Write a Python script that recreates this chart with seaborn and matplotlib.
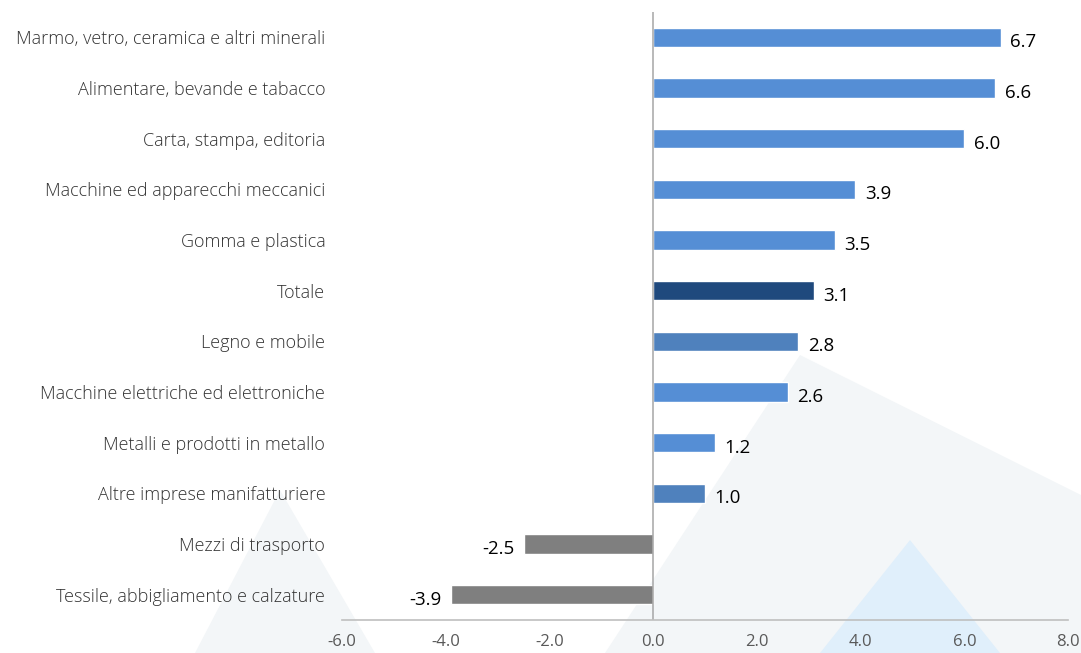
import pandas as pd
import matplotlib.pyplot as plt
import seaborn as sns
from matplotlib.patches import Polygon

categories = [
    "Marmo, vetro, ceramica e altri minerali",
    "Alimentare, bevande e tabacco",
    "Carta, stampa, editoria",
    "Macchine ed apparecchi meccanici",
    "Gomma e plastica",
    "Totale",
    "Legno e mobile",
    "Macchine elettriche ed elettroniche",
    "Metalli e prodotti in metallo",
    "Altre imprese manifatturiere",
    "Mezzi di trasporto",
    "Tessile, abbigliamento e calzature",
]
values = [6.7, 6.6, 6.0, 3.9, 3.5, 3.1, 2.8, 2.6, 1.2, 1.0, -2.5, -3.9]
bar_colors = ["#558ED5", "#558ED5", "#558ED5", "#558ED5", "#558ED5", "#1F497D",
              "#4F81BD", "#558ED5", "#558ED5", "#4F81BD", "#7F7F7F", "#7F7F7F"]
xticks = [-6, -4, -2, 0, 2, 4, 6, 8]

sns.set_style("white")
plt.rcParams['font.family'] = ['Open Sans', 'DejaVu Sans']

df = pd.DataFrame({"cat": categories, "val": values})

fig = plt.figure(figsize=(10.81, 6.53), dpi=100)

# decorative background triangles
bg = [
    ([(800, 355), (1081, 495), (1081, 653), (605, 653)], "#F3F6F8"),
    ([(280, 490), (375, 653), (195, 653)], "#F3F6F8"),
    ([(910, 540), (1000, 653), (820, 653)], "#E0EFFB"),
]
for pts, col in bg:
    fig.patches.append(Polygon([(x / 1081, 1 - y / 653) for x, y in pts],
                               closed=True, transform=fig.transFigure,
                               facecolor=col, edgecolor="none", zorder=-10))

ax = fig.add_axes([0.3164, 0.0505, 0.6716, 0.9311])
ax.set_zorder(1)
ax.patch.set_alpha(0)

sns.barplot(data=df, x="val", y="cat", hue="cat", palette=dict(zip(categories, bar_colors)),
            legend=False, width=0.38, ax=ax, saturation=1)

for i, v in enumerate(values):
    off = 0.18 if v >= 0 else -0.18
    ax.text(v + off, i + 0.1, f"{v:.1f}", va="center", ha="left" if v >= 0 else "right",
            fontsize=13.5, color="#000000", fontweight="medium")

ax.axvline(0, color="#A6A6A6", lw=1.1, zorder=1)
ax.set_xlim(-6, 8)
ax.set_ylim(11.5, -0.5)
ax.set_xticks(xticks)
ax.set_xticklabels([f"{t:.1f}" for t in xticks], color="#595959", fontsize=12)
ax.tick_params(axis="y", labelsize=13, colors="#333333", length=0, pad=12)
for lab in ax.get_yticklabels():
    lab.set_fontweight("light")
ax.tick_params(axis="x", length=0, pad=10)
ax.set_xlabel("")
ax.set_ylabel("")
for s in ["top", "right", "left"]:
    ax.spines[s].set_visible(False)
ax.spines["bottom"].set_color("#BFBFBF")
ax.spines["bottom"].set_linewidth(1.2)

plt.savefig("out.png", dpi=100)
